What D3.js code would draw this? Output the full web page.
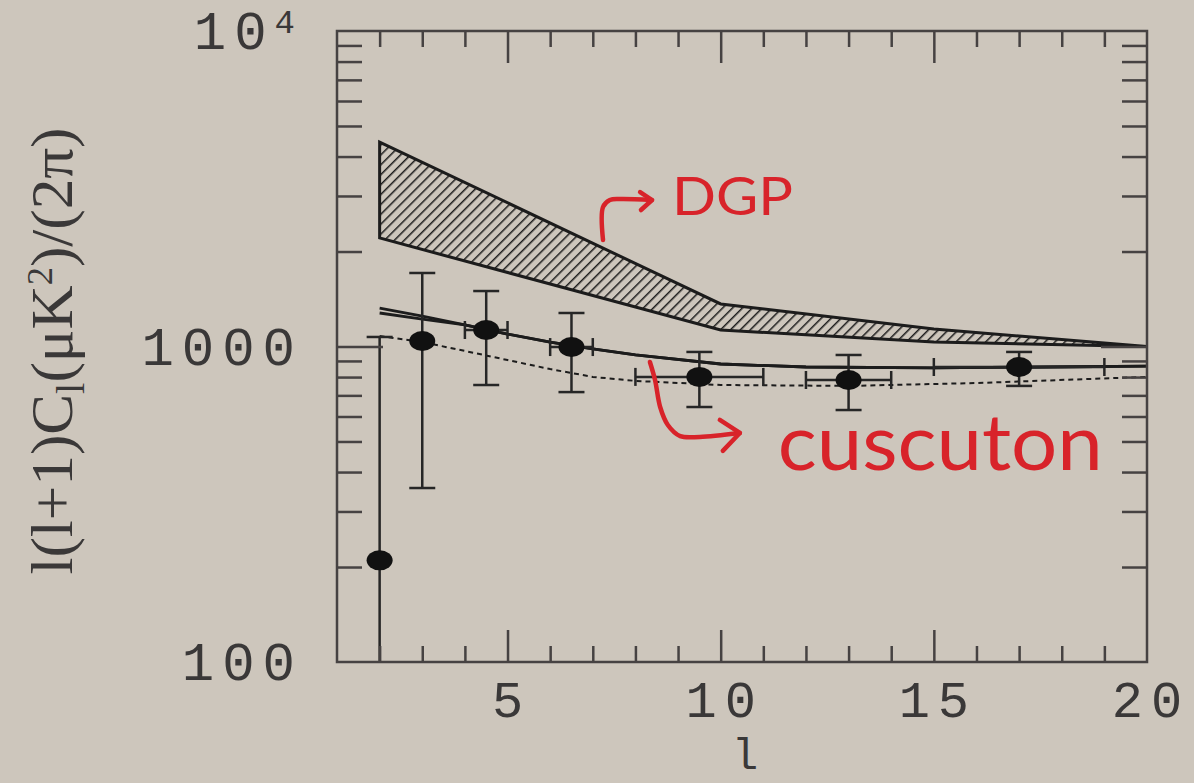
<!DOCTYPE html>
<html>
<head>
<meta charset="utf-8">
<script src="https://cdn.jsdelivr.net/npm/d3@7"></script>
<style>
  body { margin: 0; background: #cdc6bc; }
  svg { display: block; }
</style>
</head>
<body>
<script>
// binned data points (l, l(l+1)Cl/2pi) with error bars
var lValues  = [2, 3, 4.5, 6.5, 9.5, 13, 17];
var clValues = [210, 1041, 1128, 996, 801, 783, 861];
var errLow   = [50, 356, 755, 717, 643, 629, 750];
var errHigh  = [1072, 1710, 1499, 1277, 961, 940, 961];
var binLow   = [2, 3, 4, 6, 8, 12, 15];
var binHigh  = [2, 3, 5, 7, 11, 14, 19];

// theory curves
var solidL      = [2, 3, 4, 5, 6, 7, 8, 10, 12, 15, 20];
var solidUpper  = [1324, 1249, 1170, 1095, 1033, 982, 940, 880, 861, 855, 867];
var solidLower  = [1277, 1222, 1170, 1095, 1033, 982, 940, 880, 861, 855, 867];
var dashedL     = [2, 3, 4, 5, 6, 7, 8, 10, 13, 16, 20];
var dashedVals  = [1080, 1033, 968, 906, 848, 801, 778, 755, 750, 766, 801];

// DGP band
var dgpL     = [2, 10, 15, 20];
var dgpUpper = [4446, 1364, 1136, 1000];
var dgpLower = [2208, 1128, 1033, 1000];

var xTickLabels = [5, 10, 15, 20];
var yTickLabels = [100, 1000, 10000];

// hand-drawn annotations, in data coordinates
var dgpArrow = [[7.24, 2176], [7.24, 2768], [7.40, 2913], [7.64, 2935], [8.39, 2913]];
var dgpHead  = [[8.11, 3088], [8.39, 2913], [8.13, 2708]];
var cusArrow = [[8.34, 893], [8.46, 783], [8.58, 643], [8.76, 564], [9.05, 520], [9.51, 517], [10.45, 532]];
var cusHead  = [[9.98, 585], [10.45, 532], [10.05, 467]];

var W = 1194, H = 783;
var ink = "#1c1c1c", frame = "#464242", red = "#d8232a", textCol = "#3a3838";

var svg = d3.select("body").append("svg").attr("width", W).attr("height", H);
svg.append("rect").attr("width", W).attr("height", H).attr("fill", "#cdc6bc");

var x = d3.scaleLinear().domain([1, 20]).range([337, 1147]);
var y = d3.scaleLog().domain([100, 10000]).range([662, 31]);

var defs = svg.append("defs");
defs.append("clipPath").attr("id", "plot")
  .append("rect").attr("x", 337).attr("y", 31).attr("width", 810).attr("height", 631);
var pat = defs.append("pattern").attr("id", "hatch")
  .attr("patternUnits", "userSpaceOnUse").attr("width", 7).attr("height", 7)
  .attr("patternTransform", "rotate(45)");
pat.append("line").attr("x1", 0).attr("y1", 0).attr("x2", 0).attr("y2", 7)
  .attr("stroke", ink).attr("stroke-width", 3);

var g = svg.append("g").attr("clip-path", "url(#plot)");

// DGP hatched band
var area = d3.area().x(function(d) { return x(d[0]); })
  .y0(function(d) { return y(d[1]); }).y1(function(d) { return y(d[2]); });
var band = dgpL.map(function(l, i) { return [l, dgpLower[i], dgpUpper[i]]; });
g.append("path").datum(band).attr("d", area)
  .attr("fill", "url(#hatch)").attr("stroke", ink).attr("stroke-width", 3);

// theory lines
var line = d3.line().x(function(d) { return x(d[0]); }).y(function(d) { return y(d[1]); });
g.append("path").datum(d3.zip(solidL, solidUpper)).attr("d", line)
  .attr("fill", "none").attr("stroke", ink).attr("stroke-width", 2.8);
g.append("path").datum(d3.zip(solidL, solidLower)).attr("d", line)
  .attr("fill", "none").attr("stroke", ink).attr("stroke-width", 2.8);
g.append("path").datum(d3.zip(dashedL, dashedVals)).attr("d", line)
  .attr("fill", "none").attr("stroke", ink).attr("stroke-width", 2)
  .attr("stroke-dasharray", "5,4");

// error bars
var pts = lValues.map(function(l, i) {
  return {l: l, v: clValues[i], lo: errLow[i], hi: errHigh[i], b0: binLow[i], b1: binHigh[i]};
});
var eb = g.selectAll("g.pt").data(pts).enter().append("g").attr("class", "pt")
  .attr("stroke", "#262626").attr("stroke-width", 2.5);
eb.append("line")
  .attr("x1", function(d) { return x(d.l); }).attr("x2", function(d) { return x(d.l); })
  .attr("y1", function(d) { return y(d.lo); }).attr("y2", function(d) { return y(d.hi); });
eb.append("line")
  .attr("x1", function(d) { return x(d.l) - 13; }).attr("x2", function(d) { return x(d.l) + 13; })
  .attr("y1", function(d) { return y(d.hi); }).attr("y2", function(d) { return y(d.hi); });
eb.append("line")
  .attr("x1", function(d) { return x(d.l) - 13; }).attr("x2", function(d) { return x(d.l) + 13; })
  .attr("y1", function(d) { return y(d.lo); }).attr("y2", function(d) { return y(d.lo); });
var hb = eb.filter(function(d) { return d.b1 > d.b0; });
hb.append("line")
  .attr("x1", function(d) { return x(d.b0); }).attr("x2", function(d) { return x(d.b1); })
  .attr("y1", function(d) { return y(d.v); }).attr("y2", function(d) { return y(d.v); });
hb.append("line")
  .attr("x1", function(d) { return x(d.b0); }).attr("x2", function(d) { return x(d.b0); })
  .attr("y1", function(d) { return y(d.v) - 9; }).attr("y2", function(d) { return y(d.v) + 9; });
hb.append("line")
  .attr("x1", function(d) { return x(d.b1); }).attr("x2", function(d) { return x(d.b1); })
  .attr("y1", function(d) { return y(d.v) - 9; }).attr("y2", function(d) { return y(d.v) + 9; });
g.selectAll("ellipse").data(pts).enter().append("ellipse")
  .attr("cx", function(d) { return x(d.l); }).attr("cy", function(d) { return y(d.v); })
  .attr("rx", 13).attr("ry", 10).attr("fill", "#111");

// frame and ticks on all four sides
var xMinor = d3.range(2, 20).filter(function(v) { return v % 5 !== 0; });
var xMajor = [5, 10, 15];
var yMinor = [200, 300, 400, 500, 600, 700, 800, 900, 2000, 3000, 4000, 5000, 6000, 7000, 8000, 9000];
var yMajor = [1000];

function ticks(axis, vals, size) {
  return axis.tickValues(vals).tickSize(size).tickFormat("");
}
var axG = svg.append("g").attr("class", "axes");
axG.append("g").attr("transform", "translate(0,662)").call(ticks(d3.axisBottom(x), xMinor, -16));
axG.append("g").attr("transform", "translate(0,662)").call(ticks(d3.axisBottom(x), xMajor, -32));
axG.append("g").attr("transform", "translate(0,31)").call(ticks(d3.axisTop(x), xMinor, -16));
axG.append("g").attr("transform", "translate(0,31)").call(ticks(d3.axisTop(x), xMajor, -32));
axG.append("g").attr("transform", "translate(337,0)").call(ticks(d3.axisLeft(y), yMinor, -25));
axG.append("g").attr("transform", "translate(337,0)").call(ticks(d3.axisLeft(y), yMajor, -46));
axG.append("g").attr("transform", "translate(1147,0)").call(ticks(d3.axisRight(y), yMinor, -25));
axG.append("g").attr("transform", "translate(1147,0)").call(ticks(d3.axisRight(y), yMajor, -46));
axG.selectAll(".domain").remove();
axG.selectAll(".tick line").attr("stroke", frame).attr("stroke-width", 2.5);
svg.append("rect").attr("x", 337).attr("y", 31).attr("width", 810).attr("height", 631)
  .attr("fill", "none").attr("stroke", frame).attr("stroke-width", 2.5);

// tick labels
var labelFont = "'Liberation Mono', 'DejaVu Sans Mono', monospace";
svg.append("g").selectAll("text").data(xTickLabels).enter().append("text")
  .attr("x", function(d) { return x(d) + 4; }).attr("y", 717)
  .attr("text-anchor", "middle")
  .attr("font-family", labelFont).attr("font-size", 52).attr("letter-spacing", 8)
  .attr("fill", textCol).text(function(d) { return d; });

var yl = svg.append("g").selectAll("text").data(yTickLabels).enter().append("text")
  .attr("x", 303).attr("y", function(d) { return y(d) + 18; })
  .attr("text-anchor", "end")
  .attr("font-family", labelFont).attr("font-size", 54).attr("letter-spacing", 8)
  .attr("fill", textCol);
yl.each(function(d) {
  var t = d3.select(this);
  if (d === 10000) {
    t.append("tspan").text("10");
    t.append("tspan").attr("font-size", 34).attr("dy", -16).text("4");
  } else {
    t.text(d);
  }
});

// axis titles
svg.append("text").attr("x", 745).attr("y", 769).attr("text-anchor", "middle")
  .attr("font-family", labelFont).attr("font-size", 44).attr("fill", textCol).text("l");

var yt = svg.append("text")
  .attr("transform", "translate(72,351) rotate(-90)")
  .attr("text-anchor", "middle")
  .attr("font-family", "'Liberation Serif', 'DejaVu Serif', serif")
  .attr("font-size", 60).attr("fill", textCol)
  .attr("textLength", 447).attr("lengthAdjust", "spacingAndGlyphs");
yt.append("tspan").text("l(l+1)C");
yt.append("tspan").attr("font-size", 40).attr("dy", 12).text("l");
yt.append("tspan").attr("dy", -12).text("(\u03BCK");
yt.append("tspan").attr("font-size", 36).attr("dy", -20).text("2");
yt.append("tspan").attr("dy", 20).text(")/(2\u03C0)");

// red annotations
var ann = svg.append("g").attr("fill", "none").attr("stroke", red)
  .attr("stroke-width", 4.5).attr("stroke-linecap", "round").attr("stroke-linejoin", "round");
var curve = d3.line().curve(d3.curveCatmullRom)
  .x(function(d) { return x(d[0]); }).y(function(d) { return y(d[1]); });
ann.append("path").attr("d", curve(dgpArrow));
ann.append("path").attr("d", line(dgpHead));
ann.append("path").attr("d", curve(cusArrow));
ann.append("path").attr("d", line(cusHead));

var handFont = "Lato, 'Open Sans', sans-serif";
svg.append("text").attr("x", x(8.86)).attr("y", y(2611))
  .attr("font-family", handFont).attr("font-weight", 400).attr("font-size", 52)
  .attr("fill", red).attr("textLength", 121).attr("lengthAdjust", "spacingAndGlyphs")
  .text("DGP");
svg.append("text").attr("x", x(11.34)).attr("y", y(406))
  .attr("font-family", handFont).attr("font-weight", 400).attr("font-size", 78)
  .attr("fill", red).attr("textLength", 325).attr("lengthAdjust", "spacingAndGlyphs")
  .text("cuscuton");
</script>
</body>
</html>
